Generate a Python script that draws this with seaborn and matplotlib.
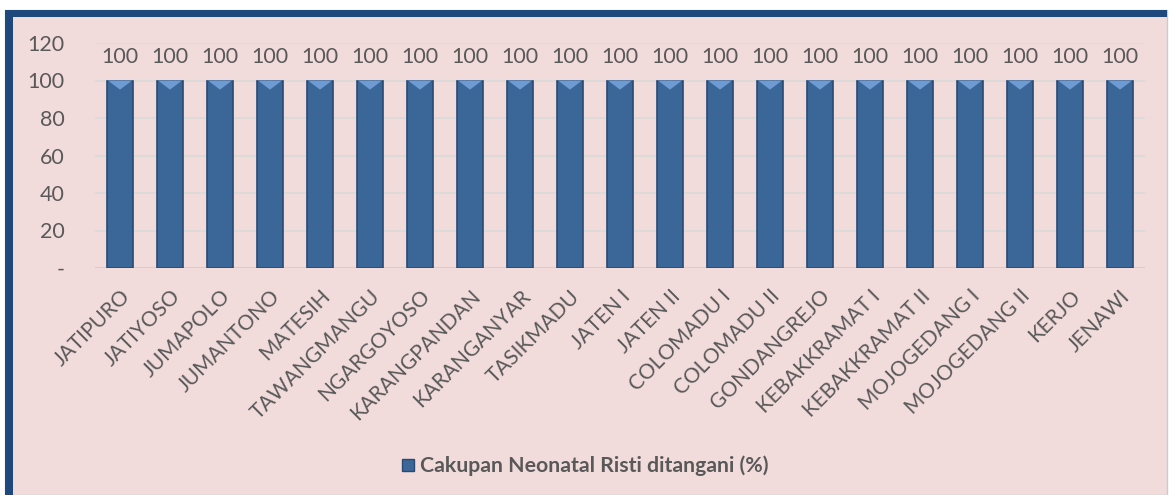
import matplotlib
matplotlib.use("Agg")
import matplotlib.pyplot as plt
import seaborn as sns
import pandas as pd
from matplotlib.patches import Rectangle
from matplotlib.lines import Line2D
from matplotlib.path import Path
from matplotlib.markers import MarkerStyle

kecamatan = [
    "JATIPURO", "JATIYOSO", "JUMAPOLO", "JUMANTONO", "MATESIH",
    "TAWANGMANGU", "NGARGOYOSO", "KARANGPANDAN", "KARANGANYAR",
    "TASIKMADU", "JATEN I", "JATEN II", "COLOMADU I", "COLOMADU II",
    "GONDANGREJO", "KEBAKKRAMAT I", "KEBAKKRAMAT II", "MOJOGEDANG I",
    "MOJOGEDANG II", "KERJO", "JENAWI",
]
cakupan = [100] * 21
y_ticks = [0, 20, 40, 60, 80, 100, 120]
y_labels = ["-", "20", "40", "60", "80", "100", "120"]
series_name = "Cakupan Neonatal Risti ditangani (%)"

df = pd.DataFrame({"kecamatan": kecamatan, "cakupan": cakupan})

sns.set_theme(style="white")
plt.rcParams["font.family"] = ["Lato", "DejaVu Sans"]

W, H = 1169, 495
fig = plt.figure(figsize=(W / 100, H / 100), dpi=100)
fig.patch.set_facecolor("white")

# chart panel: pink fill with dark blue frame
pink = "#F2DCDB"
frame_blue = "#1F497D"
fig.patches.append(Rectangle((5 / W, 0), (1167 - 5) / W, (H - 10) / H,
                             transform=fig.transFigure, facecolor=pink,
                             edgecolor="#C8CCD8", linewidth=1.0, zorder=-2))
fig.patches.append(Rectangle((5 / W, (H - 17) / H), (1167 - 5) / W, 7 / H,
                             transform=fig.transFigure, facecolor=frame_blue,
                             edgecolor="none", zorder=-1))
fig.patches.append(Rectangle((5 / W, 0), 7.5 / W, (H - 10) / H,
                             transform=fig.transFigure, facecolor=frame_blue,
                             edgecolor="none", zorder=-1))

left, right = 95 / W, 1145 / W
bottom, top = (H - 268) / H, (H - 43) / H
ax = fig.add_axes([left, bottom, right - left, top - bottom])
ax.set_facecolor("none")
ax.set_zorder(2)

bar_face = "#3A6698"
bar_edge = "#284A74"
sns.barplot(data=df, x="kecamatan", y="cakupan", ax=ax, color=bar_face,
            width=0.52, edgecolor=bar_edge, linewidth=1.2, saturation=1,
            zorder=3)

# lighter bevel hanging just below the top of each cylinder
bevel = MarkerStyle(Path([(-1, 0), (1, 0), (0, -0.75), (-1, 0)],
                         [Path.MOVETO, Path.LINETO, Path.LINETO, Path.CLOSEPOLY]))
ax.scatter(range(len(kecamatan)), cakupan, marker=bevel, s=17.5 ** 2,
           color="#6E9BD2", edgecolor="none", zorder=4, clip_on=False)

ax.set_xlim(-0.5, len(kecamatan) - 0.5)
ax.set_ylim(0, 120)
ax.set_yticks(y_ticks)
ax.set_yticklabels(y_labels)
ax.yaxis.grid(True, color="#DADADA", linewidth=1.2, zorder=0)
ax.set_axisbelow(True)
for s in ax.spines.values():
    s.set_visible(False)
ax.axhline(0, color="#D0D0D0", linewidth=1.5, zorder=2)

ax.set_xlabel("")
ax.set_ylabel("")
tick_color = "#595959"
ax.tick_params(axis="y", length=0, pad=22, labelsize=15.5, labelcolor=tick_color)
ax.tick_params(axis="x", length=0, pad=13, labelsize=15, labelcolor=tick_color)
for lab in ax.get_xticklabels():
    lab.set_rotation(45)
    lab.set_ha("right")
    lab.set_va("top")
    lab.set_rotation_mode("anchor")

for cont in ax.containers:
    ax.bar_label(cont, labels=[f"{v:g}" for v in cakupan], padding=10,
                 fontsize=15.5, color=tick_color)

handle = Line2D([], [], marker="s", linestyle="none", markersize=8,
                markerfacecolor=bar_face, markeredgecolor=bar_edge)
fig.legend([handle], [series_name], loc="center", bbox_to_anchor=(0.5, (H - 466) / H),
           frameon=False, handletextpad=0.25, handlelength=0.7,
           prop={"size": 15.3, "weight": "bold"}, labelcolor=tick_color)

fig.savefig("out.png", dpi=100, facecolor=fig.get_facecolor())
